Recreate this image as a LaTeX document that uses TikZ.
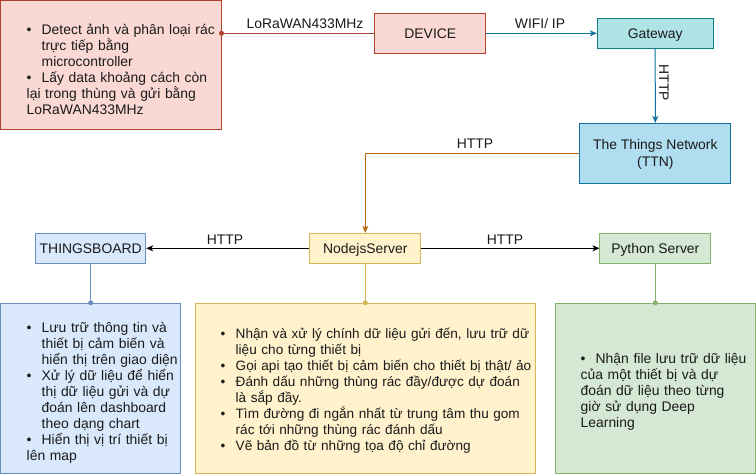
\documentclass[tikz,border=0pt]{standalone}
\usepackage{fontspec}
\setmainfont{Liberation Sans}
\usetikzlibrary{arrows.meta}
\definecolor{redF}{HTML}{FAD9D5}
\definecolor{redS}{HTML}{AE4132}
\definecolor{tealF}{HTML}{B0E3E6}
\definecolor{tealS}{HTML}{0E8088}
\definecolor{blueF}{HTML}{B1DDF0}
\definecolor{blueS}{HTML}{10739E}
\definecolor{yelF}{HTML}{FFF2CC}
\definecolor{yelS}{HTML}{D6B656}
\definecolor{lbF}{HTML}{DAE8FC}
\definecolor{lbS}{HTML}{6C8EBF}
\definecolor{grF}{HTML}{D5E8D4}
\definecolor{grS}{HTML}{82B366}
\definecolor{orS}{HTML}{B46504}
\definecolor{txt}{HTML}{1A1A1A}
\newcommand{\bitem}[1]{\par\raggedright\setlength{\lineskiplimit}{-100pt}\noindent\hangindent=15pt\hangafter=1\makebox[15pt][l]{\textbullet}#1}
\newcommand{\nl}{\newline}
\newcommand{\topstrut}{\rule{0pt}{14pt}}
\newcommand{\botstrut}{\rule[-4pt]{0pt}{4pt}}
\newcommand{\cs}{\rule[-3pt]{0pt}{16pt}}
\begin{document}
\begin{tikzpicture}[x=1pt,y=-1pt,
  box/.style={draw, line width=1pt, inner sep=0pt, font=\fontsize{13.9}{16.6}\selectfont, text=txt, align=center},
  lst/.style={anchor=west, inner sep=0pt, text width=#1, font=\fontsize{13.9}{16}\selectfont, text=txt},
  lbl/.style={inner sep=0pt, font=\fontsize{13.9}{16}\selectfont, text=txt},
  conn/.style={line width=1pt},
  tip/.style={-{Stealth[length=7pt,width=6pt,inset=2pt]}}
]
\useasboundingbox (0,0) rectangle (756,476);
\fill[white] (0,0) rectangle (756,476);

% boxes
\node[box, fill=redF, draw=redS, minimum width=220.5pt, minimum height=129.5pt] (sensor) at (110.75,65.25) {};
\node[box, fill=redF, draw=redS, minimum width=110.7pt, minimum height=40pt] (device) at (430.3,33.3) {\cs DEVICE};
\node[box, fill=tealF, draw=tealS, minimum width=115.7pt, minimum height=30pt] (gateway) at (655.2,33.3) {\cs Gateway};
\node[box, fill=blueF, draw=blueS, minimum width=150.7pt, minimum height=60pt] (ttn) at (655.3,153.3) {\cs The Things Network\\\cs (TTN)};
\node[box, fill=lbF, draw=lbS, minimum width=110pt, minimum height=30pt] (tb) at (90.7,248.3) {\cs THINGSBOARD};
\node[box, fill=yelF, draw=yelS, minimum width=110.7pt, minimum height=30pt] (nodejs) at (365.3,248.3) {\cs NodejsServer};
\node[box, fill=grF, draw=grS, minimum width=110.7pt, minimum height=30pt] (python) at (655.3,248.3) {\cs Python Server};
\node[box, fill=lbF, draw=lbS, minimum width=179.5pt, minimum height=170pt] (tbbox) at (90.25,388.3) {};
\node[box, fill=yelF, draw=yelS, minimum width=340.3pt, minimum height=170pt] (nodebox) at (365.15,388.3) {};
\node[box, fill=grF, draw=grS, minimum width=200.5pt, minimum height=170pt] (pybox) at (655.25,388.3) {};

% list texts
\node[lst=450pt] (sensortext) at (26.5,68.6) {%
\bitem{\topstrut Detect ảnh và phân loại rác\nl trực tiếp bằng\nl microcontroller}
\bitem{Lấy data khoảng cách còn\nl lại trong thùng và gửi bằng\nl LoRaWAN433MHz\botstrut}};
\node[lst=450pt] (tbtext) at (26.5,390.1) {%
\bitem{\topstrut Lưu trữ thông tin và\nl thiết bị cảm biến và\nl hiển thị trên giao diện}
\bitem{Xử lý dữ liệu để hiển\nl thị dữ liệu gửi và dự\nl đoán lên dashboard\nl theo dạng chart}
\bitem{Hiển thị vị trí thiết bị\nl lên map\botstrut}};
\node[lst=450pt, font=\fontsize{13.6}{16}\selectfont] (nodetext) at (220.5,388.6) {%
\bitem{\topstrut Nhận và xử lý chính dữ liệu gửi đến, lưu trữ dữ\nl liệu cho từng thiết bị}
\bitem{Gọi api tạo thiết bị cảm biến cho thiết bị thật/ ảo}
\bitem{Đánh dấu những thùng rác đầy/được dự đoán\nl là sắp đầy.}
\bitem{Tìm đường đi ngắn nhất từ trung tâm thu gom\nl rác tới những thùng rác đánh dấu}
\bitem{Vẽ bản đồ từ những tọa độ chỉ đường\botstrut}};
\node[lst=450pt] (pytext) at (580.5,389.6) {%
\bitem{\topstrut Nhận file lưu trữ dữ liệu\nl của một thiết bị và dự\nl đoán dữ liệu theo từng\nl giờ sử dụng Deep\nl Learning\botstrut}};

% connectors
\draw[conn, redS] (sensor.east |- device.west) -- (device.west);
\fill[redS] (sensor.east |- device.west) circle (2.5pt);
\draw[conn, tip, blueS] (device.east) -- (gateway.west);
\draw[conn, tip, blueS] (gateway.south) -- (ttn.north);
\draw[conn, tip, orS] (ttn.west) -| (nodejs.north);
\draw[conn, tip, black] (nodejs.west) -- (tb.east);
\draw[conn, tip, black] (nodejs.east) -- (python.west);
\draw[conn, lbS] (tb.south) -- (tb.south |- tbbox.north);
\fill[lbS] (tb.south |- tbbox.north) circle (2.5pt);
\draw[conn, yelS] (nodejs.south) -- (nodejs.south |- nodebox.north);
\fill[yelS] (nodejs.south |- nodebox.north) circle (2.5pt);
\draw[conn, grS] (python.south) -- (python.south |- pybox.north);
\fill[grS] (python.south |- pybox.north) circle (2.5pt);

% labels
\node[lbl] (llora) at (305,24) {LoRaWAN433MHz};
\node[lbl] (lwifi) at (540,24) {WIFI/ IP};
\node[lbl, rotate=-90] (lgw) at (664,82.7) {HTTP};
\node[lbl] (lttn) at (475,144) {HTTP};
\node[lbl] (ltb) at (225,239.3) {HTTP};
\node[lbl] (lpy) at (505,239.3) {HTTP};
\end{tikzpicture}
\end{document}
